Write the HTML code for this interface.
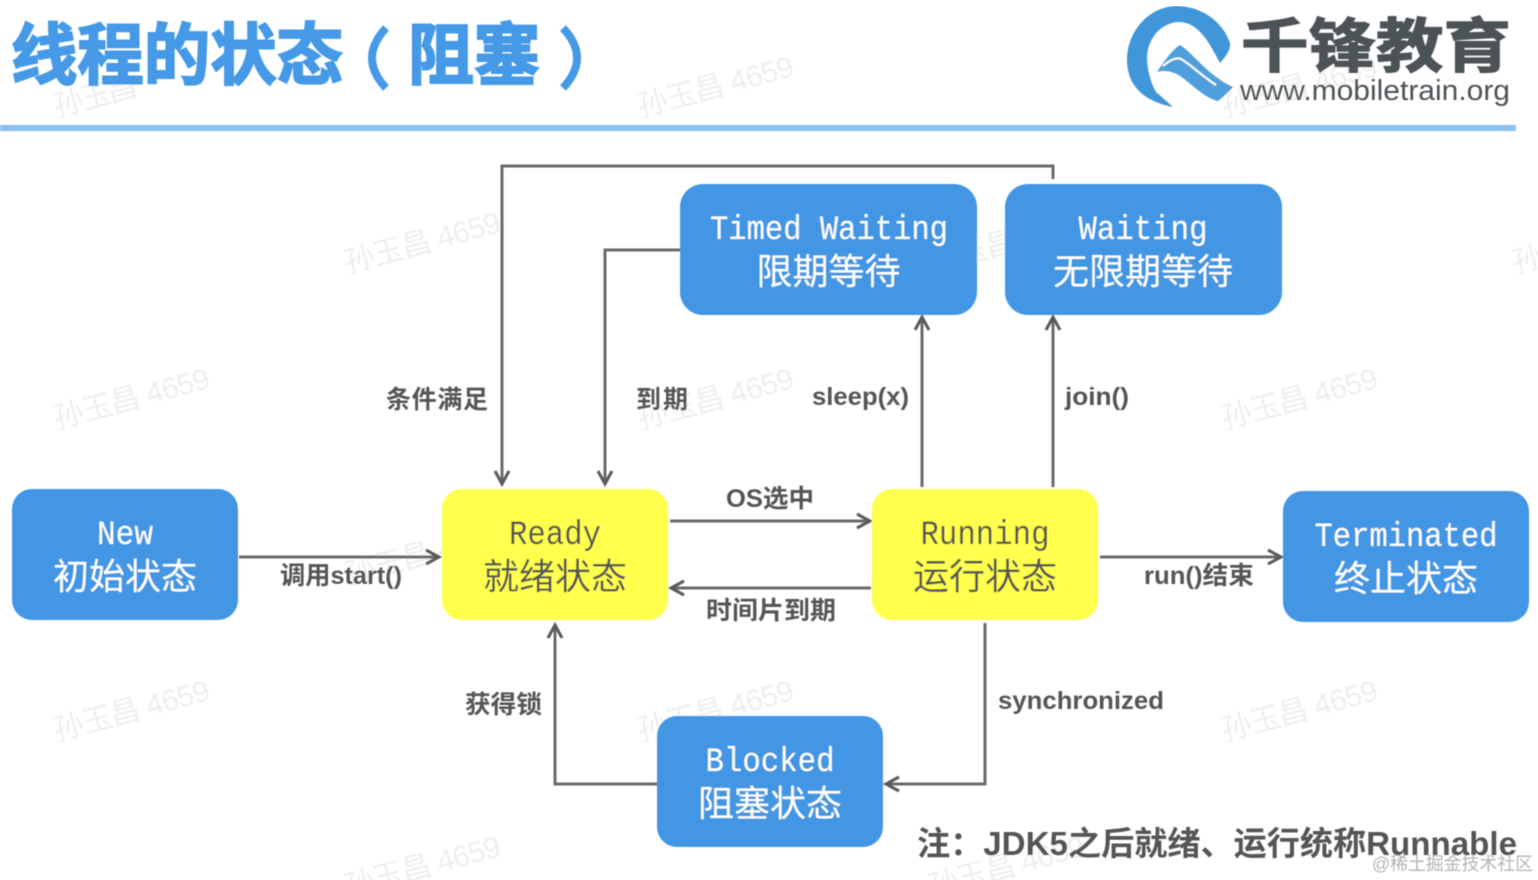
<!DOCTYPE html>
<html><head><meta charset="utf-8"><style>
html,body{margin:0;padding:0;background:#fff}
svg{display:block}
text{font-family:"Liberation Sans","Noto Sans CJK SC",sans-serif}
.wm{font-size:30px;fill:#eeeeee}
.m{font-family:"Liberation Mono","Noto Sans CJK SC",monospace;font-size:34px;fill:#fff;text-anchor:middle}
.c{font-size:36px;fill:#fff;text-anchor:middle}
.l{font-size:25px;font-weight:700;fill:#555}
.a{fill:none;stroke:#6a6a6a;stroke-width:3}
.h{fill:none;stroke:#5a5a5a;stroke-width:3}
</style></head><body>
<svg width="1538" height="880" viewBox="0 0 1538 880" xmlns="http://www.w3.org/2000/svg">
<defs><filter id="b" x="0" y="0" width="100%" height="100%"><feGaussianBlur stdDeviation="0.5"/></filter></defs>
<rect width="1538" height="880" fill="#fff"/>
<g filter="url(#b)">
<g class="wm">
<text class="wm" x="57" y="429" transform="rotate(-15 57 429)" textLength="160">孙玉昌 4659</text>
<text class="wm" x="57" y="741" transform="rotate(-15 57 741)" textLength="160">孙玉昌 4659</text>
<text class="wm" x="57" y="117" transform="rotate(-15 57 117)" textLength="85">孙玉昌</text>
<text class="wm" x="641" y="117" transform="rotate(-15 641 117)" textLength="160">孙玉昌 4659</text>
<text class="wm" x="641" y="429" transform="rotate(-15 641 429)" textLength="160">孙玉昌 4659</text>
<text class="wm" x="641" y="741" transform="rotate(-15 641 741)" textLength="160">孙玉昌 4659</text>
<text class="wm" x="348" y="273" transform="rotate(-15 348 273)" textLength="160">孙玉昌 4659</text>
<text class="wm" x="348" y="585" transform="rotate(-15 348 585)" textLength="160">孙玉昌 4659</text>
<text class="wm" x="348" y="897" transform="rotate(-15 348 897)" textLength="160">孙玉昌 4659</text>
<text class="wm" x="932" y="273" transform="rotate(-15 932 273)" textLength="160">孙玉昌 4659</text>
<text class="wm" x="932" y="585" transform="rotate(-15 932 585)" textLength="160">孙玉昌 4659</text>
<text class="wm" x="932" y="897" transform="rotate(-15 932 897)" textLength="160">孙玉昌 4659</text>
<text class="wm" x="1225" y="429" transform="rotate(-15 1225 429)" textLength="160">孙玉昌 4659</text>
<text class="wm" x="1225" y="741" transform="rotate(-15 1225 741)" textLength="160">孙玉昌 4659</text>
<text class="wm" x="1225" y="117" transform="rotate(-15 1225 117)" textLength="160">孙玉昌 4659</text>
<text class="wm" x="1516" y="273" transform="rotate(-15 1516 273)">孙玉昌</text>
</g>

<!-- header -->
<g font-size="67" font-weight="700" fill="#4499e6" stroke="#4499e6" stroke-width="2">
<text x="11" y="79" textLength="332" lengthAdjust="spacingAndGlyphs">线程的状态</text>
<text x="408" y="79" textLength="132" lengthAdjust="spacingAndGlyphs">阻塞</text>
</g>
<path d="M386 28Q358 58 386 88" fill="none" stroke="#4499e6" stroke-width="8"/>
<path d="M563 28Q591 58 563 88" fill="none" stroke="#4499e6" stroke-width="8"/>
<rect x="0" y="125" width="1516" height="6" fill="#8cc0ee"/>

<!-- logo -->
<path d="M1230 43C1222 20 1200 6 1176 6C1148 7 1127 32 1127 60C1127 84 1142 101 1173 107L1156 92C1151 83 1147 70 1147 57C1148 37 1162 22 1180 22C1198 23 1208 40 1220 63C1226 56 1231 50 1230 43Z" fill="#3f96d8"/>
<path d="M1157 72C1165 60 1172 50 1180 45C1192 52 1208 76 1233 87C1226 94 1222 98 1218 101C1204 98 1192 84 1180 76C1172 71 1165 70 1157 72Z" fill="#4f9fdc"/>
<path d="M1163 66C1170 60 1176 57 1181 59C1190 64 1202 76 1216 85" fill="none" stroke="#fff" stroke-width="2"/>
<text x="1241" y="67" font-size="59" font-weight="700" fill="#4c5257" stroke="#4c5257" stroke-width="1.2" textLength="270" lengthAdjust="spacingAndGlyphs">千锋教育</text>
<text x="1240" y="100" font-size="29" fill="#4c5257" textLength="270" lengthAdjust="spacingAndGlyphs">www.mobiletrain.org</text>

<!-- connectors -->
<g class="a">
<path d="M1053 179V166H502V484"/>
<path d="M680 250H605V484"/>
<path d="M922 487V317"/>
<path d="M1053 487V317"/>
<path d="M239 557H439"/>
<path d="M670 521H870"/>
<path d="M871 588H671"/>
<path d="M1100 557H1281"/>
<path d="M985 623V784H886"/>
<path d="M657 784H555V625"/>
</g>
<g class="h">
<path d="M495 471L502 484L509 471"/>
<path d="M598 471L605 484L612 471"/>
<path d="M915 330L922 317L929 330"/>
<path d="M1046 330L1053 317L1060 330"/>
<path d="M426 550L439 557L426 564"/>
<path d="M857 514L870 521L857 528"/>
<path d="M684 581L671 588L684 595"/>
<path d="M1268 550L1281 557L1268 564"/>
<path d="M899 777L886 784L899 791"/>
<path d="M548 638L555 625L562 638"/>
</g>

<!-- nodes -->
<g fill="#4396e3">
<rect x="680" y="184" width="297" height="131" rx="23"/>
<rect x="1005" y="184" width="277" height="131" rx="23"/>
<rect x="12" y="489" width="226" height="131" rx="20"/>
<rect x="1283" y="491" width="246" height="131" rx="20"/>
<rect x="657" y="716" width="226" height="131" rx="20"/>
</g>
<g fill="#ffff4d">
<rect x="442" y="489" width="226" height="131" rx="20"/>
<rect x="872" y="489" width="226" height="131" rx="20"/>
</g>

<text class="m" x="829" y="239" textLength="238" lengthAdjust="spacingAndGlyphs">Timed Waiting</text>
<text class="c" x="828.5" y="284">限期等待</text>
<text class="m" x="1143" y="239" textLength="129" lengthAdjust="spacingAndGlyphs">Waiting</text>
<text class="c" x="1143" y="284">无限期等待</text>
<text class="m" x="125" y="544" textLength="56" lengthAdjust="spacingAndGlyphs">New</text>
<text class="c" x="125" y="589">初始状态</text>
<text class="m" x="555" y="544" style="fill:#555" textLength="92" lengthAdjust="spacingAndGlyphs">Ready</text>
<text class="c" x="555" y="589" style="fill:#555">就绪状态</text>
<text class="m" x="985" y="544" style="fill:#555" textLength="129" lengthAdjust="spacingAndGlyphs">Running</text>
<text class="c" x="985" y="589" style="fill:#555">运行状态</text>
<text class="m" x="1406" y="546" textLength="183" lengthAdjust="spacingAndGlyphs">Terminated</text>
<text class="c" x="1406" y="591">终止状态</text>
<text class="m" x="770" y="771" textLength="129" lengthAdjust="spacingAndGlyphs">Blocked</text>
<text class="c" x="770" y="816">阻塞状态</text>

<!-- labels -->
<text class="l" x="386" y="408" textLength="102">条件满足</text>
<text class="l" x="636" y="408" textLength="52">到期</text>
<text class="l" x="812" y="405" textLength="97" lengthAdjust="spacingAndGlyphs">sleep(x)</text>
<text class="l" x="1065" y="405" textLength="64" lengthAdjust="spacingAndGlyphs">join()</text>
<text class="l" x="726" y="507" textLength="88" lengthAdjust="spacingAndGlyphs">OS选中</text>
<text class="l" x="706" y="619" textLength="130" lengthAdjust="spacingAndGlyphs">时间片到期</text>
<text class="l" x="280" y="584" textLength="122" lengthAdjust="spacingAndGlyphs">调用start()</text>
<text class="l" x="1144" y="584" textLength="110" lengthAdjust="spacingAndGlyphs">run()结束</text>
<text class="l" x="465" y="713" textLength="77" lengthAdjust="spacingAndGlyphs">获得锁</text>
<text class="l" x="998" y="709" textLength="166" lengthAdjust="spacingAndGlyphs">synchronized</text>

<text x="917" y="855" font-size="33" font-weight="700" fill="#555" textLength="600" lengthAdjust="spacingAndGlyphs">注：JDK5之后就绪、运行统称Runnable</text>
<text x="1372" y="870" font-size="18" fill="#b4b4b4" textLength="161" lengthAdjust="spacingAndGlyphs">@稀土掘金技术社区</text>
</g>
</svg>
</body></html>
